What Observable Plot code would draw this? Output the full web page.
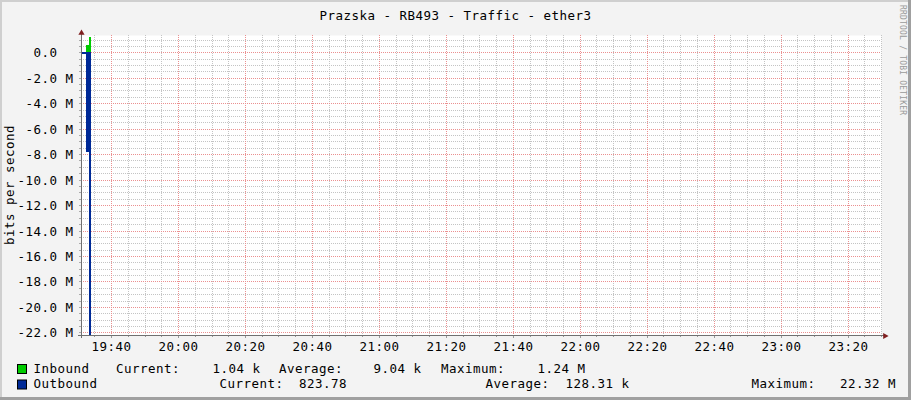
<!DOCTYPE html>
<html>
<head>
<meta charset="utf-8">
<script src="https://cdn.jsdelivr.net/npm/d3@7"></script>
<script src="https://cdn.jsdelivr.net/npm/@observablehq/plot@0.6"></script>
<style>
  body { margin: 0; background: #f3f3f3; }
  #wrap { position: relative; width: 911px; height: 400px; overflow: hidden; }
  #wrap svg { display: block; }
  #overlay { position: absolute; left: 0; top: 0; pointer-events: none; }
</style>
</head>
<body>
<div id="wrap"></div>
<script>
// ---- data (values in Mbit/s) ----
const day = "2024-01-01T";
const times = ["19:31:00", "19:32:21", "19:33:23", "19:34:05"];
const inboundM = [0.00104, 0.57, 1.24, 1.24];
const outboundM = [-0.13, -7.85, -22.32, -22.32];

const xDomainLabels = ["19:31:00", "23:30:00"];
const xTickLabels = ["19:40", "20:00", "20:20", "20:40", "21:00", "21:20", "21:40", "22:00", "22:20", "22:40", "23:00", "23:20"];
const yDomain = [-22.21, 1.36];
const yTicks = [-22, -20, -18, -16, -14, -12, -10, -8, -6, -4, -2, 0];

const title = "Prazska - RB493 - Traffic - ether3";
const yLabel = "bits per second";
const watermark = "RRDTOOL / TOBI OETIKER";
const seriesNames = ["Inbound", "Outbound"];
const seriesColors = ["#00CC00", "#002A97"];
const statLabels = ["Current:", "Average:", "Maximum:"];
const inboundStats = ["1.04 k", "9.04 k", "1.24 M"];
const outboundStats = ["823.78", "128.31 k", "22.32 M"];

// ---- build ----
const T = s => new Date(day + (s.length === 5 ? s + ":00" : s) + "Z");
const data = times.map((t, i) => ({ t: T(t), inb: inboundM[i], out: outboundM[i] }));
const xDomain = xDomainLabels.map(T);
const xMajor = xTickLabels.map(T);
const majorSet = new Set(xMajor.map(d => +d));
const xMinor = d3.utcMinute.every(5).range(T("19:35"), new Date(+T("23:30") + 1000)).filter(d => !majorSet.has(+d));
const yMinor = d3.range(-22, 1.01, 0.5).filter(v => Math.abs(v % 2) > 1e-9);
const minute = 60000;

const fontFamily = "'DejaVu Sans Mono', monospace";
const minorColor = "#c4c4c4";
const majorColor = "#eb9090";
const axisColor = "#707070";
const arrowColor = "#7f1f1f";

const plot = Plot.plot({
  width: 911,
  height: 400,
  marginLeft: 81,
  marginRight: 30,
  marginTop: 35,
  marginBottom: 65,
  style: { background: "#f3f3f3", fontFamily, fontSize: "12.5px", color: "#000", letterSpacing: "0.47px", overflow: "visible" },
  x: { type: "utc", domain: xDomain, label: null, round: true },
  y: { domain: yDomain, label: null, round: true },
  marks: [
    Plot.frame({ fill: "white", stroke: "none" }),
    Plot.gridX(xMinor, { stroke: minorColor, strokeOpacity: 1, strokeDasharray: "1,1" }),
    Plot.gridY(yMinor, { stroke: minorColor, strokeOpacity: 1, strokeDasharray: "1,1" }),
    Plot.gridX(xMajor, { stroke: majorColor, strokeOpacity: 1, strokeDasharray: "1,1" }),
    Plot.gridY(yTicks, { stroke: majorColor, strokeOpacity: 1, strokeDasharray: "1,1" }),
    Plot.areaY(data, { x: "t", y: "inb", curve: "step-after", fill: seriesColors[0], clip: true }),
    Plot.areaY(data, { x: "t", y: "out", curve: "step-after", fill: seriesColors[1], clip: true }),
    Plot.axisX(xMinor, { tickSize: 2, tickFormat: () => "", stroke: "#999" }),
    Plot.axisX(xMajor, { tickSize: 3, tickPadding: 4, tickFormat: d3.utcFormat("%H:%M"), stroke: "#999" }),
    Plot.axisY(yMinor, { tickSize: 2, tickFormat: () => "", stroke: "#aaa" }),
    Plot.axisY(yTicks, { tickSize: 2, tickPadding: 6, stroke: "#aaa",
      tickFormat: d => d === 0 ? "0.0\u00a0\u00a0" : d.toFixed(1) + " M" }),
    Plot.ruleX([xDomain[0]], { y1: yDomain[0] - 0.24, y2: yDomain[1] + 0.2, stroke: axisColor }),
    Plot.ruleY([yDomain[0]], { x1: new Date(+xDomain[0] - minute), x2: new Date(+xDomain[1] + minute), stroke: axisColor }),
    Plot.dot([0], { frameAnchor: "top-left", symbol: "triangle", r: 2.3, fill: arrowColor, stroke: "none", dy: -2.5 }),
    Plot.dot([0], { frameAnchor: "bottom-right", symbol: "triangle", r: 2.3, fill: arrowColor, stroke: "none", rotate: 90, dx: 3.5, dy: 0.5 })
  ]
});

const wrap = document.getElementById("wrap");
wrap.appendChild(plot);

// ---- annotations: title, labels, legend, border ----
const ov = d3.select(wrap).append("svg")
  .attr("id", "overlay").attr("width", 911).attr("height", 400)
  .style("font-family", fontFamily).style("font-size", "12.5px").style("letter-spacing", "0.47px");

ov.append("text").attr("x", 455.5).attr("y", 20).attr("text-anchor", "middle").attr("fill", "#000").text(title);
ov.append("text").attr("transform", "translate(13.5,185) rotate(-90)").attr("text-anchor", "middle").attr("fill", "#000").text(yLabel);
ov.append("text").attr("transform", "translate(899.5,5) rotate(90)")
  .style("font-size", "8px").style("letter-spacing", "0.2px").attr("fill", "#9a9a9a").text(watermark);

const rows = [
  { name: seriesNames[0], color: seriesColors[0], y: 373.3, sq: 364.5,
    items: [[116, statLabels[0]], [212.5, inboundStats[0]], [279, statLabels[1]], [373.5, inboundStats[1]], [441, statLabels[2]], [537.5, inboundStats[2]]] },
  { name: seriesNames[1], color: seriesColors[1], y: 388.4, sq: 380,
    items: [[219.5, statLabels[0]], [299, outboundStats[0]], [485.5, statLabels[1]], [565.5, outboundStats[1]], [751.5, statLabels[2]], [840, outboundStats[2]]] }
];
rows.forEach(r => {
  ov.append("rect").attr("x", 17.5).attr("y", r.sq).attr("width", 9).attr("height", 9)
    .attr("fill", r.color).attr("stroke", "#000").attr("stroke-width", 1);
  ov.append("text").attr("x", 33.5).attr("y", r.y).attr("fill", "#000").text(r.name);
  r.items.forEach(([x, s]) => ov.append("text").attr("x", x).attr("y", r.y).attr("fill", "#000").style("white-space", "pre").text(s));
});

// border shading
ov.append("rect").attr("x", 0).attr("y", 0).attr("width", 911).attr("height", 2).attr("fill", "#cfcfcf");
ov.append("rect").attr("x", 0).attr("y", 0).attr("width", 2).attr("height", 400).attr("fill", "#cfcfcf");
ov.append("rect").attr("x", 908).attr("y", 0).attr("width", 3).attr("height", 400).attr("fill", "#a0a0a0");
ov.append("rect").attr("x", 0).attr("y", 397).attr("width", 911).attr("height", 3).attr("fill", "#a0a0a0");
</script>
</body>
</html>
